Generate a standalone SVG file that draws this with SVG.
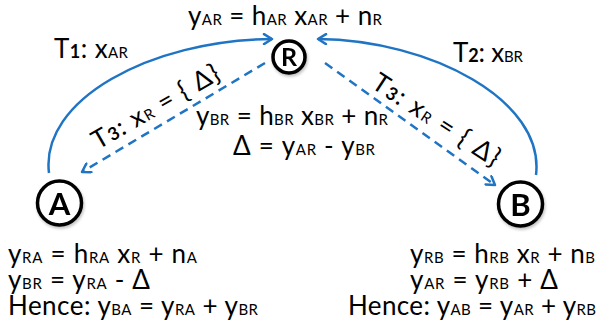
<svg xmlns="http://www.w3.org/2000/svg" width="601" height="327" viewBox="0 0 601 327">
<style>
text{font-family:"Lato","Liberation Sans","DejaVu Sans",sans-serif;font-size:26px;fill:#000}
.s{font-size:15px}
.b{font-size:18px;font-weight:bold}
.node{fill:#fff;stroke:#000;stroke-width:3.5}
.lbl{font-weight:bold;text-anchor:middle}
.arc{fill:none;stroke:#1F74C4;stroke-width:2.5}
.dash{fill:none;stroke:#1F74C4;stroke-width:2.5;stroke-dasharray:9 6}
</style>
<defs>
<marker id="ah" viewBox="-10 -6 12 12" refX="0" refY="0" markerWidth="12" markerHeight="12" markerUnits="userSpaceOnUse" orient="auto">
<path d="M-8,-5 L0,0 L-8,5" fill="none" stroke="#1F74C4" stroke-width="2.5" stroke-linecap="round" stroke-linejoin="round"/>
</marker>
<filter id="sh" x="-30%" y="-30%" width="160%" height="160%">
<feGaussianBlur in="SourceAlpha" stdDeviation="1.5"/>
<feOffset dx="1" dy="2" result="o"/>
<feComponentTransfer><feFuncA type="linear" slope="0.25"/></feComponentTransfer>
<feMerge><feMergeNode/><feMergeNode in="SourceGraphic"/></feMerge>
</filter>
</defs>
<g id="connectors">
<path class="arc" d="M49,173 C40,100 150,40 272,39" marker-end="url(#ah)"/>
<path class="arc" d="M536,175 C545,100 430,40 318,39" marker-end="url(#ah)"/>
<path class="dash" d="M265,63 L82,172" marker-end="url(#ah)"/>
<path class="dash" d="M325,63 L495,185" marker-end="url(#ah)"/>
</g>
<g id="node-R" filter="url(#sh)">
<circle class="node" cx="289" cy="57" r="16"/>
<text class="lbl" x="289" y="66" style="font-size:25px">R</text>
</g>
<g id="node-A" filter="url(#sh)">
<circle class="node" cx="59.5" cy="203" r="22"/>
<text class="lbl" x="59.5" y="214.5" style="font-size:31px">A</text>
</g>
<g id="node-B" filter="url(#sh)">
<circle class="node" cx="520.5" cy="204" r="22"/>
<text class="lbl" x="520.5" y="215.5" style="font-size:31px">B</text>
</g>
<g id="labels">
<text x="188" y="25" textLength="194" lengthAdjust="spacing">y<tspan class="s">AR</tspan> = h<tspan class="s">AR</tspan> x<tspan class="s">AR</tspan> + n<tspan class="s">R</tspan></text>
<text x="54" y="58" textLength="74" lengthAdjust="spacing">T<tspan class="b">1</tspan>: x<tspan class="s">AR</tspan></text>
<text x="453" y="62" textLength="70" lengthAdjust="spacing">T<tspan class="b">2</tspan>: x<tspan class="s">BR</tspan></text>
<text x="196" y="125" textLength="192" lengthAdjust="spacing">y<tspan class="s">BR</tspan> = h<tspan class="s">BR</tspan> x<tspan class="s">BR</tspan> + n<tspan class="s">R</tspan></text>
<text x="233" y="155" textLength="142" lengthAdjust="spacing">Δ = y<tspan class="s">AR</tspan> - y<tspan class="s">BR</tspan></text>
<text transform="translate(98,150) rotate(-30)" textLength="143" lengthAdjust="spacing">T<tspan class="b">3</tspan>: x<tspan class="s">R</tspan> = { Δ}</text>
<text transform="translate(370,87) rotate(33)" textLength="147" lengthAdjust="spacing">T<tspan class="b">3</tspan>: x<tspan class="s">R</tspan> = { Δ}</text>
<text x="8" y="263" textLength="189" lengthAdjust="spacing">y<tspan class="s">RA</tspan> = h<tspan class="s">RA</tspan> x<tspan class="s">R</tspan> + n<tspan class="s">A</tspan></text>
<text x="8" y="289" textLength="142" lengthAdjust="spacing">y<tspan class="s">BR</tspan> = y<tspan class="s">RA</tspan> - Δ</text>
<text x="8" y="315" textLength="250" lengthAdjust="spacing">Hence: y<tspan class="s">BA</tspan> = y<tspan class="s">RA</tspan> + y<tspan class="s">BR</tspan></text>
<text x="410" y="263" textLength="185" lengthAdjust="spacing">y<tspan class="s">RB</tspan> = h<tspan class="s">RB</tspan> x<tspan class="s">R</tspan> + n<tspan class="s">B</tspan></text>
<text x="410" y="289" textLength="148" lengthAdjust="spacing">y<tspan class="s">AR</tspan> = y<tspan class="s">RB</tspan> + Δ</text>
<text x="348" y="315" textLength="248" lengthAdjust="spacing">Hence: y<tspan class="s">AB</tspan> = y<tspan class="s">AR</tspan> + y<tspan class="s">RB</tspan></text>
</g>
</svg>
